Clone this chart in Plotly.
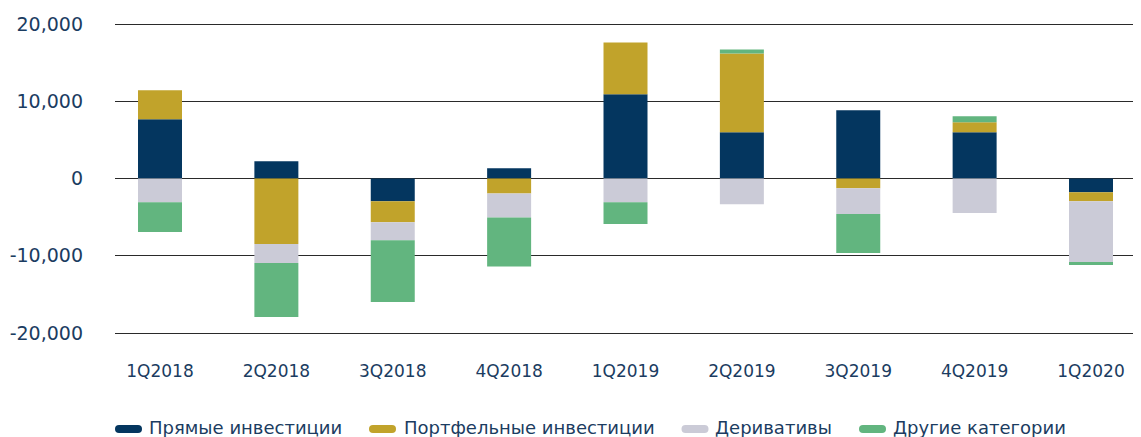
import plotly.graph_objects as go

categories = ["1Q2018", "2Q2018", "3Q2018", "4Q2018", "1Q2019", "2Q2019", "3Q2019", "4Q2019", "1Q2020"]
direct = [7680, 2240, -2930, 1340, 10900, 5990, 8840, 5990, -1770]
portfolio = [3750, -8490, -2720, -1940, 6720, 10200, -1250, 1290, -1160]
derivatives = [-3060, -2460, -2330, -3100, -3060, -3320, -3360, -4480, -7890]
other = [-3880, -6990, -8020, -6340, -2840, 520, -5040, 780, -390]

series_names = ["Прямые инвестиции", "Портфельные инвестиции", "Деривативы", "Другие категории"]
series_values = [direct, portfolio, derivatives, other]
colors = ["#04365f", "#c1a32b", "#cbcbd7", "#62b57f"]

y_tickvals = [-20000, -10000, 0, 10000, 20000]
y_ticktext = ["-20,000", "-10,000", "0", "10,000", "20,000"]

FONT = "DejaVu Sans"
TEXT_COLOR = "#1b3c61"

# the page body has an 8px default margin; compensate so the figure fills the window
OFF = 8
WIN_W, WIN_H = 1141, 437
W, H = WIN_W - OFF, WIN_H - OFF
ML, MR, MT, MB = 115 - OFF, 0, 22 - OFF, 102
plot_h = H - MT - MB
plot_w = W - ML - MR
y_half = 20000 * plot_h / 309.0

fig = go.Figure()
for name, vals, col in zip(series_names, series_values, colors):
    fig.add_trace(go.Bar(
        x=categories, y=vals, name=name,
        marker=dict(color=col, line=dict(width=0)),
        width=0.378, showlegend=False,
    ))

# window pixel -> paper coords
def px_to_paper_x(px):
    return (px - OFF - ML) / plot_w

def py_to_paper_y(py):
    return (H - MB - (py - OFF)) / plot_h

# custom legend: pill-shaped markers + text
legend_pill_x = [128.5, 382.5, 695, 872.5]
legend_text_x = [147, 402, 713, 891]
pill_y = 429
text_y = 427
pill_path = ("M -9.5,-4 L 9.5,-4 Q 13.5,-4 13.5,0 Q 13.5,4 9.5,4 "
             "L -9.5,4 Q -13.5,4 -13.5,0 Q -13.5,-4 -9.5,-4 Z")
shapes = []
annotations = []
for name, col, pxp, pxt in zip(series_names, colors, legend_pill_x, legend_text_x):
    shapes.append(dict(
        type="path", xref="paper", yref="paper",
        xsizemode="pixel", ysizemode="pixel",
        xanchor=px_to_paper_x(pxp), yanchor=py_to_paper_y(pill_y),
        path=pill_path, fillcolor=col, line=dict(width=0),
    ))
    annotations.append(dict(
        xref="paper", yref="paper",
        x=px_to_paper_x(pxt), y=py_to_paper_y(text_y),
        xanchor="left", yanchor="middle", showarrow=False,
        text=name, font=dict(family=FONT, size=18, color=TEXT_COLOR),
    ))

fig.update_layout(
    width=W, height=H,
    margin=dict(l=ML, r=MR, t=MT, b=MB, pad=0, autoexpand=False),
    paper_bgcolor="white", plot_bgcolor="white",
    barmode="relative",
    font=dict(family=FONT, color=TEXT_COLOR, size=18),
    shapes=shapes, annotations=annotations,
    xaxis=dict(
        type="category", range=[-0.3867, 8.4296], automargin=False,
        showgrid=False, zeroline=False, showline=False, ticks="",
        tickfont=dict(family=FONT, size=17, color=TEXT_COLOR),
        ticklabelstandoff=24,
    ),
    yaxis=dict(
        range=[-y_half, y_half], tickvals=y_tickvals, ticktext=y_ticktext,
        automargin=False,
        showgrid=True, gridcolor="#2a2a2a", gridwidth=1,
        zeroline=False, showline=False, ticks="",
        tickfont=dict(family=FONT, size=19, color=TEXT_COLOR),
        ticklabelstandoff=31,
    ),
)

fig.write_html("out.html")
